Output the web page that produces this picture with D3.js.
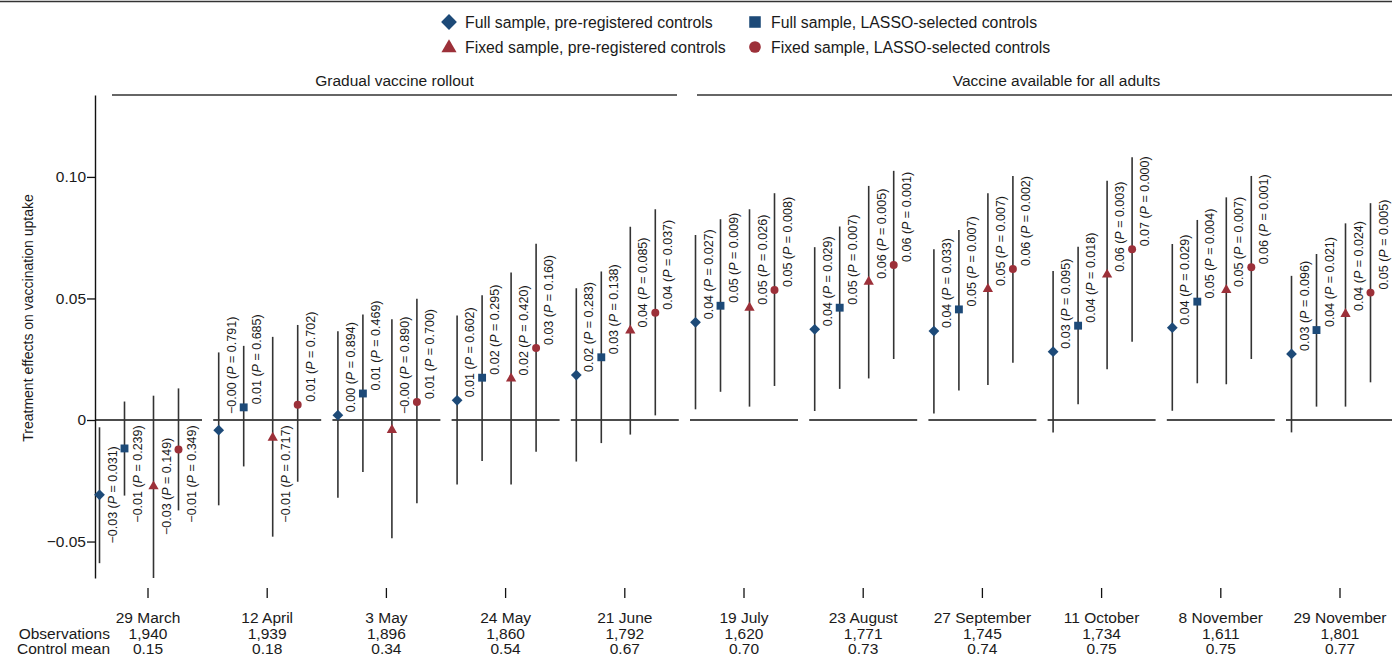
<!DOCTYPE html>
<html>
<head>
<meta charset="utf-8">
<script src="https://cdn.jsdelivr.net/npm/d3@7"></script>
<style>
  body { margin: 0; background: #fff; }
  text { font-family: "Liberation Sans", Arial, sans-serif; fill: #1a1a1a; }
</style>
</head>
<body>
<div class="chart"></div>
<script>

const FRAME_WIDTH = 1392;
const FRAME_HEIGHT = 659;

// survey waves
const dates = ["29 March", "12 April", "3 May", "24 May", "21 June", "19 July",
               "23 August", "27 September", "11 October", "8 November", "29 November"];
const observations = [1940, 1939, 1896, 1860, 1792, 1620, 1771, 1745, 1734, 1611, 1801];
const controlMeans = [0.15, 0.18, 0.34, 0.54, 0.67, 0.70, 0.73, 0.74, 0.75, 0.75, 0.77];

// Full sample, pre-registered controls
const fullPreEst  = [-0.0308, -0.0042, 0.0020, 0.0081, 0.0185, 0.0402, 0.0373, 0.0366, 0.0281, 0.0380, 0.0272];
const fullPreLow  = [-0.0589, -0.0351, -0.0320, -0.0265, -0.0171, 0.0044, 0.0037, 0.0027, -0.0051, 0.0038, -0.0051];
const fullPreHigh = [-0.0030, 0.0278, 0.0365, 0.0430, 0.0542, 0.0761, 0.0711, 0.0702, 0.0613, 0.0724, 0.0593];
const fullPreP    = [0.031, 0.791, 0.894, 0.602, 0.283, 0.027, 0.029, 0.033, 0.095, 0.029, 0.096];

// Full sample, LASSO-selected controls
const fullLassoEst  = [-0.0117, 0.0052, 0.0109, 0.0174, 0.0258, 0.0470, 0.0462, 0.0455, 0.0388, 0.0487, 0.0370];
const fullLassoLow  = [-0.0311, -0.0191, -0.0214, -0.0169, -0.0095, 0.0116, 0.0128, 0.0121, 0.0065, 0.0151, 0.0055];
const fullLassoHigh = [0.0076, 0.0305, 0.0434, 0.0513, 0.0611, 0.0826, 0.0796, 0.0782, 0.0713, 0.0823, 0.0683];
const fullLassoP    = [0.239, 0.685, 0.469, 0.295, 0.138, 0.009, 0.007, 0.007, 0.018, 0.004, 0.021];

// Fixed sample, pre-registered controls
const fixedPreEst  = [-0.0273, -0.0073, -0.0041, 0.0171, 0.0368, 0.0462, 0.0569, 0.0539, 0.0598, 0.0535, 0.0436];
const fixedPreLow  = [-0.0650, -0.0480, -0.0486, -0.0265, -0.0060, 0.0055, 0.0171, 0.0144, 0.0209, 0.0147, 0.0055];
const fixedPreHigh = [0.0100, 0.0342, 0.0414, 0.0607, 0.0795, 0.0867, 0.0963, 0.0933, 0.0984, 0.0916, 0.0809];
const fixedPreP    = [0.149, 0.717, 0.890, 0.420, 0.085, 0.026, 0.005, 0.007, 0.003, 0.007, 0.024];

// Fixed sample, LASSO-selected controls
const fixedLassoEst  = [-0.0121, 0.0063, 0.0074, 0.0296, 0.0441, 0.0535, 0.0638, 0.0621, 0.0702, 0.0628, 0.0524];
const fixedLassoLow  = [-0.0372, -0.0254, -0.0342, -0.0131, 0.0019, 0.0140, 0.0251, 0.0236, 0.0322, 0.0251, 0.0155];
const fixedLassoHigh = [0.0130, 0.0391, 0.0499, 0.0725, 0.0867, 0.0933, 0.1025, 0.1004, 0.1081, 0.1004, 0.0892];
const fixedLassoP    = [0.349, 0.702, 0.700, 0.160, 0.037, 0.008, 0.001, 0.002, 0.000, 0.001, 0.005];

const BLUE = "#1d4a78";
const RED = "#9c3039";

const SERIES = [
    {name: "Full sample, pre-registered controls", est: fullPreEst, low: fullPreLow, high: fullPreHigh, p: fullPreP,
     shape: "diamond", color: BLUE, dx: -48.5},
    {name: "Full sample, LASSO-selected controls", est: fullLassoEst, low: fullLassoLow, high: fullLassoHigh, p: fullLassoP,
     shape: "square", color: BLUE, dx: -23.5},
    {name: "Fixed sample, pre-registered controls", est: fixedPreEst, low: fixedPreLow, high: fixedPreHigh, p: fixedPreP,
     shape: "triangle", color: RED, dx: 5.5},
    {name: "Fixed sample, LASSO-selected controls", est: fixedLassoEst, low: fixedLassoLow, high: fixedLassoHigh, p: fixedLassoP,
     shape: "circle", color: RED, dx: 30.5}
];

const AXIS_X = 95;

const SVG = d3.select(".chart")
    .append("svg")
    .attr("width", FRAME_WIDTH)
    .attr("height", FRAME_HEIGHT);

const Y_SCALE = d3.scaleLinear()
    .domain([-0.065, 0.1337])
    .range([578, 95]);

const X_SCALE = d3.scaleBand()
    .domain(dates)
    .range([88.4, 88.4 + 11 * 119.2])
    .paddingInner(0.094)
    .paddingOuter(0.047);

const center = (d) => X_SCALE(d) + X_SCALE.bandwidth() / 2;

// marker generator (plot size / legend size)
function symbolPath(shape, big) {
    const k = big ? 2.15 : 1;
    if (shape === "diamond") return d3.symbol(d3.symbolSquare, 58 * k)();
    if (shape === "square") return d3.symbol(d3.symbolSquare, 62 * k)();
    if (shape === "triangle") return d3.symbol(d3.symbolTriangle, 46 * k)();
    return d3.symbol(d3.symbolCircle, 50 * k)();
}
const rot = (shape) => shape === "diamond" ? " rotate(45)" : "";

// top rule
SVG.append("line")
    .attr("x1", 0).attr("x2", FRAME_WIDTH)
    .attr("y1", 1.5).attr("y2", 1.5)
    .attr("stroke", "#333").attr("stroke-width", 1.5);

// legend
const LEGEND_POS = [[449, 22], [755, 22], [449, 47], [755, 47]];
SERIES.forEach((s, i) => {
    const g = SVG.append("g")
        .attr("transform", "translate(" + LEGEND_POS[i][0] + "," + LEGEND_POS[i][1] + ")");
    g.append("path")
        .attr("d", symbolPath(s.shape, true))
        .attr("transform", "translate(0," + (s.shape === "triangle" ? 1 : 0) + ")" + rot(s.shape))
        .attr("fill", s.color);
    g.append("text")
        .attr("x", 16)
        .attr("dy", "0.35em")
        .attr("font-size", "15.8px")
        .text(s.name);
});

// period headers
const HEADERS = [
    {label: "Gradual vaccine rollout", x1: 112, x2: 677},
    {label: "Vaccine available for all adults", x1: 697, x2: 1416}
];
HEADERS.forEach((h) => {
    SVG.append("line")
        .attr("x1", h.x1).attr("x2", h.x2)
        .attr("y1", 95).attr("y2", 95)
        .attr("stroke", "#333").attr("stroke-width", 1.5);
    SVG.append("text")
        .attr("x", (h.x1 + h.x2) / 2)
        .attr("y", 86)
        .attr("text-anchor", "middle")
        .attr("font-size", "15.5px")
        .text(h.label);
});

// y axis
const yAxis = SVG.append("g")
    .attr("transform", "translate(" + AXIS_X + ",0)")
    .call(d3.axisLeft(Y_SCALE)
        .tickValues([-0.05, 0, 0.05, 0.10])
        .tickFormat((v) => v === 0 ? "0" : d3.format(".2f")(v))
        .tickSize(8)
        .tickSizeOuter(0)
        .tickPadding(1));
yAxis.select(".domain").attr("stroke", "#111").attr("stroke-width", 1.4);
yAxis.selectAll(".tick line").attr("stroke", "#111").attr("stroke-width", 1.3);
yAxis.selectAll("text")
    .attr("font-family", "Liberation Sans, Arial, sans-serif")
    .attr("font-size", "15.5px")
    .attr("fill", "#1a1a1a");

SVG.append("text")
    .attr("transform", "translate(33,318) rotate(-90)")
    .attr("text-anchor", "middle")
    .attr("font-size", "14px")
    .text("Treatment effects on vaccination uptake");

// zero reference per wave
SVG.append("g").selectAll("line")
    .data(dates)
    .enter()
    .append("line")
        .attr("x1", (d) => Math.max(AXIS_X, X_SCALE(d)))
        .attr("x2", (d) => X_SCALE(d) + X_SCALE.bandwidth())
        .attr("y1", Y_SCALE(0)).attr("y2", Y_SCALE(0))
        .attr("stroke", "#111").attr("stroke-width", 1.4);

// confidence intervals, markers and labels
// keep the sign on small negatives ("−0.00")
function fmtEst(v) {
    const s = d3.format(".2f")(Math.abs(v));
    return (v < 0 ? "\u2212" : "") + s;
}
const fmtP = d3.format(".3f");
const Y0 = Y_SCALE(0);

SERIES.forEach((s) => {
    const rows = dates.map((d, i) => ({date: d, est: s.est[i], low: s.low[i], high: s.high[i], p: s.p[i]}));
    const g = SVG.append("g");

    g.selectAll("line")
        .data(rows)
        .enter()
        .append("line")
            .attr("x1", (d) => center(d.date) + s.dx)
            .attr("x2", (d) => center(d.date) + s.dx)
            .attr("y1", (d) => Y_SCALE(d.high))
            .attr("y2", (d) => Y_SCALE(d.low))
            .attr("stroke", "#333")
            .attr("stroke-width", 1.6);

    g.selectAll("path")
        .data(rows)
        .enter()
        .append("path")
            .attr("d", symbolPath(s.shape, false))
            .attr("transform", (d) => "translate(" + (center(d.date) + s.dx) + "," + Y_SCALE(d.est) + ")" + rot(s.shape))
            .attr("fill", s.color);

    const labels = g.selectAll("text")
        .data(rows)
        .enter()
        .append("text")
            .attr("font-size", "12.5px")
            .attr("text-anchor", (d) => d.est <= -0.005 ? "middle" : "start")
            .attr("transform", (d) => {
                const py = Y_SCALE(d.est);
                const ly = d.est <= -0.005 ? Math.max(py, Y0 + 54) : Math.min(py - 3, Y0 - 6);
                return "translate(" + (center(d.date) + s.dx + 17) + "," + ly + ") rotate(-90)";
            });
    labels.append("tspan").text((d) => fmtEst(d.est) + " (");
    labels.append("tspan").attr("font-style", "italic").text("P");
    labels.append("tspan").text((d) => " = " + fmtP(d.p) + ")");
});

// wave ticks and table below
const xAxis = SVG.append("g")
    .attr("transform", "translate(0,588)")
    .call(d3.axisBottom(X_SCALE).tickSize(10).tickPadding(13.5));
xAxis.select(".domain").remove();
xAxis.selectAll(".tick line").attr("stroke", "#111").attr("stroke-width", 1.3);
xAxis.selectAll("text")
    .attr("font-family", "Liberation Sans, Arial, sans-serif")
    .attr("font-size", "15.5px")
    .attr("fill", "#1a1a1a");

SVG.append("g").selectAll("text")
    .data(dates)
    .enter()
    .append("text")
        .attr("x", (d) => center(d))
        .attr("y", 639)
        .attr("text-anchor", "middle")
        .attr("font-size", "15.5px")
        .text((d, i) => d3.format(",")(observations[i]));

SVG.append("g").selectAll("text")
    .data(dates)
    .enter()
    .append("text")
        .attr("x", (d) => center(d))
        .attr("y", 653.5)
        .attr("text-anchor", "middle")
        .attr("font-size", "15.5px")
        .text((d, i) => d3.format(".2f")(controlMeans[i]));

SVG.append("text").attr("x", 110).attr("y", 639).attr("text-anchor", "end")
    .attr("font-size", "15.5px").text("Observations");
SVG.append("text").attr("x", 110).attr("y", 653.5).attr("text-anchor", "end")
    .attr("font-size", "15.5px").text("Control mean");

</script>
</body>
</html>
